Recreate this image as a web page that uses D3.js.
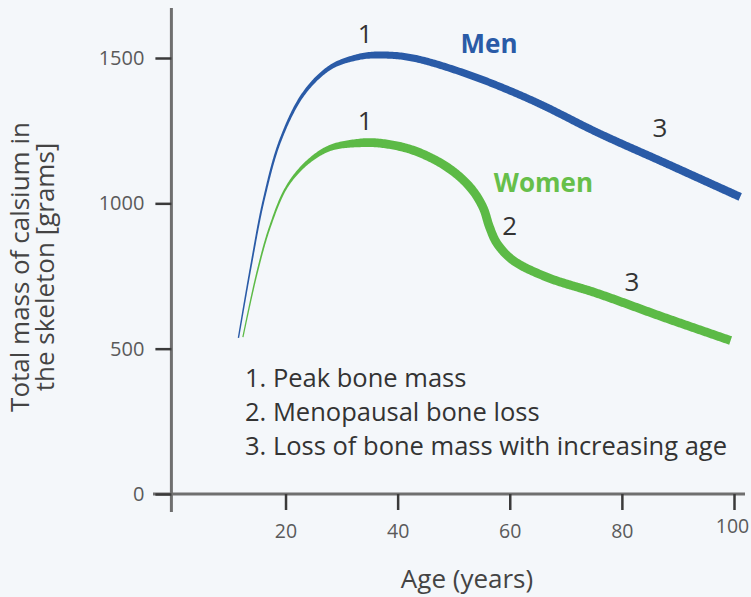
<!DOCTYPE html>
<html>
<head>
<meta charset="utf-8">
<script src="https://cdn.jsdelivr.net/npm/d3@7/dist/d3.min.js"></script>
<style>
  html, body { margin: 0; padding: 0; background: #f4f7fa; }
  svg { display: block; font-family: "Open Sans", sans-serif; }
</style>
</head>
<body>
<svg id="chart" width="751" height="597"></svg>
<script>
// ---------- data ----------
const xTicks = [20, 40, 60, 80, 100];
const yTicks = [0, 500, 1000, 1500];

const menAge  = [11.6, 13.8, 16.1, 19.1, 23.3, 28.1, 32.9, 35.8, 41.9, 51.9, 63.9, 75.8, 87.7, 101.1];
const menMass = [537, 781, 1011, 1218, 1379, 1469, 1503, 1510, 1503, 1448, 1355, 1242, 1139, 1022];

const womenAge  = [12.4, 14.9, 17.2, 20.2, 23.8, 27.9, 32.7, 36.8, 42.7, 48.8, 52.9, 55.2, 56.4, 57.7, 60.5, 66.6, 75.5, 87.3, 99.4];
const womenMass = [540, 760, 918, 1056, 1139, 1190, 1207, 1207, 1183, 1125, 1056, 987, 918, 863, 805, 746, 691, 609, 528];

const seriesNames = ["Men", "Women"];
const legendLines = ["1. Peak bone mass", "2. Menopausal bone loss", "3. Loss of bone mass with increasing age"];
const markers = [
  { label: "1", age: 34.2, mass: 1553 },
  { label: "1", age: 34.2, mass: 1253 },
  { label: "2", age: 60.0, mass: 890 },
  { label: "3", age: 86.8, mass: 1228 },
  { label: "3", age: 81.8, mass: 700 }
];
const xTitle = "Age (years)";
const yTitle = ["Total mass of calsium in", "the skeleton [grams]"];

// ---------- scales ----------
const svg = d3.select("#chart");
const x = d3.scaleLinear().domain([0, 100]).range([173.4, 734]);
const y = d3.scaleLinear().domain([0, 1500]).range([494, 58]);

// ---------- axes ----------
const axisColor = "#6f6f6f";
const tickColor = "#3a3a3a";
const labelColor = "#5a5a5a";

svg.append("line").attr("x1", x(0) - 2).attr("x2", x(0) - 2).attr("y1", 8).attr("y2", 512)
  .attr("stroke", axisColor).attr("stroke-width", 3);
svg.append("line").attr("x1", 153).attr("x2", 745).attr("y1", y(0)).attr("y2", y(0))
  .attr("stroke", axisColor).attr("stroke-width", 3);

const yAxis = svg.append("g").attr("transform", `translate(${x(0) - 2},0)`)
  .call(d3.axisLeft(y).tickValues(yTicks).tickSize(16).tickPadding(11).tickFormat(d3.format("d")));
yAxis.select(".domain").remove();
yAxis.selectAll(".tick line").attr("stroke", tickColor).attr("stroke-width", 2.5);
yAxis.selectAll(".tick text").attr("fill", labelColor).attr("font-size", 20)
  .attr("font-family", "Open Sans, sans-serif");

const xAxis = svg.append("g").attr("transform", `translate(0,${y(0)})`)
  .call(d3.axisBottom(x).tickValues(xTicks).tickSize(16).tickPadding(14));
xAxis.select(".domain").remove();
xAxis.selectAll(".tick line").attr("stroke", tickColor).attr("stroke-width", 2.5);
xAxis.selectAll(".tick text").attr("fill", labelColor).attr("font-size", 19.5)
  .attr("font-family", "Open Sans, sans-serif")
  .attr("dx", d => d === 100 ? -2 : 0)
  .attr("transform", d => d === 100 ? "translate(0,-5)" : null);

svg.append("text").attr("x", 467).attr("y", 588).attr("text-anchor", "middle")
  .attr("font-size", 26).attr("fill", "#444").text(xTitle);
const yt = svg.append("text").attr("transform", "translate(0,267) rotate(-90)")
  .attr("text-anchor", "middle").attr("font-size", 26).attr("fill", "#444");
yt.append("tspan").attr("x", 0).attr("y", 29).text(yTitle[0]);
yt.append("tspan").attr("x", 0).attr("y", 54).text(yTitle[1]);

// ---------- tapered curves ----------
const line = d3.line().x(d => x(d[0])).y(d => y(d[1])).curve(d3.curveCatmullRom.alpha(0.5));

function taperedCurve(ages, masses, color, widthScale) {
  const data = ages.map((a, i) => [a, masses[i]]);
  const base = svg.append("path").attr("d", line(data)).attr("fill", "none").attr("stroke", "none");
  const node = base.node();
  const L = node.getTotalLength();
  const n = 500;
  const pts = d3.range(n + 1).map(i => node.getPointAtLength(L * i / n));
  const left = [], right = [];
  pts.forEach((p, i) => {
    const a = pts[Math.max(0, i - 1)], b = pts[Math.min(n, i + 1)];
    const dx = b.x - a.x, dy = b.y - a.y;
    const len = Math.hypot(dx, dy) || 1;
    const nx = -dy / len, ny = dx / len;
    const w = widthScale(x.invert(p.x)) / 2;
    left.push([p.x + nx * w, p.y + ny * w]);
    right.push([p.x - nx * w, p.y - ny * w]);
  });
  const poly = left.concat(right.reverse());
  svg.append("path").attr("d", "M" + poly.map(p => p[0].toFixed(2) + "," + p[1].toFixed(2)).join("L") + "Z")
    .attr("fill", color);
}

const blue = "#2a5ba7";
const green = "#5cba46";
taperedCurve(menAge, menMass, blue,
  d3.scaleLinear().domain([11, 20, 28, 36, 60, 101]).range([1.3, 2.6, 4.6, 7, 7.5, 8.2]).clamp(true));
taperedCurve(womenAge, womenMass, green,
  d3.scaleLinear().domain([12, 20, 26, 34, 100]).range([1.2, 2.2, 5, 8.8, 8.8]).clamp(true));

// ---------- series labels ----------
svg.append("text").attr("x", x(56.3)).attr("y", 53).attr("text-anchor", "middle")
  .attr("font-size", 26).attr("font-weight", "bold").attr("fill", blue).text(seriesNames[0]);
svg.append("text").attr("x", x(66.0)).attr("y", 192).attr("text-anchor", "middle")
  .attr("font-size", 26).attr("font-weight", "bold").attr("fill", "#66bf4a").text(seriesNames[1]);

// ---------- marker numbers ----------
svg.selectAll("text.marker").data(markers).enter().append("text").attr("class", "marker")
  .attr("x", d => x(d.age)).attr("y", d => y(d.mass)).attr("text-anchor", "middle")
  .attr("font-size", 26).attr("fill", "#333").text(d => d.label);

// ---------- legend ----------
svg.selectAll("text.legend").data(legendLines).enter().append("text").attr("class", "legend")
  .attr("x", 245).attr("y", (d, i) => 387 + i * 34)
  .attr("font-size", 25.5).attr("fill", "#333").text(d => d);
</script>
</body>
</html>
